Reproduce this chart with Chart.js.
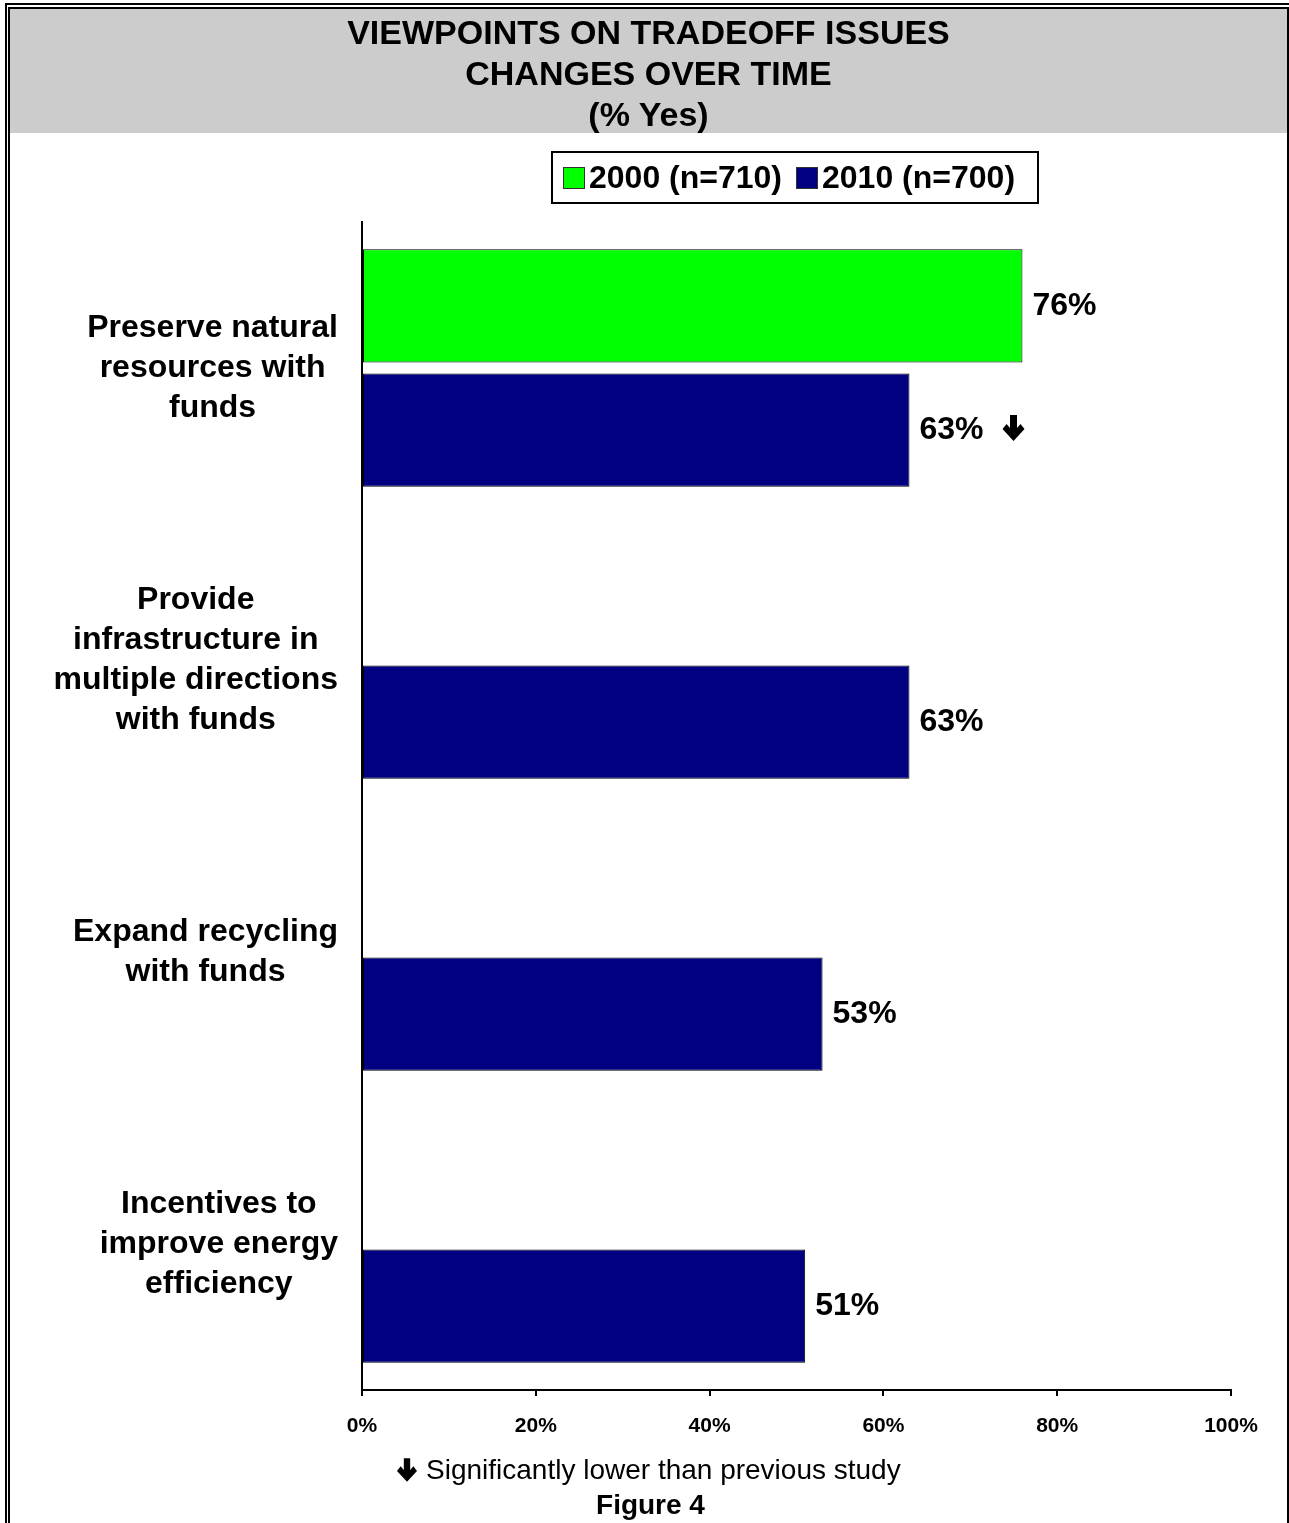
<!DOCTYPE html>
<html>
<head>
<meta charset="utf-8">
<script src="https://cdn.jsdelivr.net/npm/chart.js@4.4.1/dist/chart.umd.min.js"></script>
<style>
  body { margin: 0; background: #fff; font-family: "Liberation Sans", Arial, sans-serif; }
  #page { position: relative; width: 1289px; height: 1523px; overflow: hidden; }
  #frameOuter { position: absolute; left: 5px; top: 3px; width: 1290px; height: 1530px;
    border-left: 2px solid #000; border-top: 2px solid #000; box-sizing: border-box; }
  #frameInner { position: absolute; left: 8px; top: 7px; width: 1281px; height: 1530px;
    border: 2px solid #000; border-bottom: none; box-sizing: border-box; }
  #titleBox { position: absolute; left: 10px; top: 9px; width: 1277px; height: 124px;
    background: #cccccc; text-align: center; font-weight: bold; font-size: 34px;
    line-height: 41px; padding-top: 3px; box-sizing: border-box; color: #000; }
  #legendBox { position: absolute; left: 551px; top: 151px; width: 488px; height: 53px;
    border: 2px solid #000; box-sizing: border-box; display: flex; align-items: center;
    padding-left: 10px; font-weight: bold; font-size: 32px; color: #000; }
  .sw { width: 22px; height: 22px; border: 1px solid #333; box-sizing: border-box; margin-right: 4px; }
  .item { display: flex; align-items: center; margin-right: 14px; }
  #chartCanvas { position: absolute; left: 0; top: 0; }
  #note { position: absolute; left: 397px; top: 1453px; font-size: 28px; line-height: 34px;
    display: flex; align-items: center; color: #000; }
  #note svg { margin-right: 9px; }
  #figure { position: absolute; left: 0; width: 1301px; top: 1488px; text-align: center;
    font-size: 28px; font-weight: bold; line-height: 34px; color: #000; }
</style>
</head>
<body>
<div id="page">
  <canvas id="chartCanvas" width="1289" height="1523"></canvas>
  <div id="frameOuter"></div>
  <div id="frameInner"></div>
  <div id="titleBox">VIEWPOINTS ON TRADEOFF ISSUES<br>CHANGES OVER TIME<br>(% Yes)</div>
  <div id="legendBox"></div>
  <div id="note">
    <svg width="20" height="24" viewBox="0 0 22 26"><polygon points="7.5,0 14.5,0 14.5,13 18,9 22,14 11,26 0,14 4,9 7.5,13" fill="#000"/></svg>
    <span>Significantly lower than previous study</span>
  </div>
  <div id="figure">Figure 4</div>
</div>
<script>
const categories = [
  ['Preserve natural', 'resources with', 'funds'],
  ['Provide', 'infrastructure in', 'multiple directions', 'with funds'],
  ['Expand recycling', 'with funds'],
  ['Incentives to', 'improve energy', 'efficiency']
];
const seriesLabels = ['2000 (n=710)', '2010 (n=700)'];
const values2000 = [76, null, null, null];
const values2010 = [63, 63, 53, 51];
const sigLower2010 = [true, false, false, false];
const xTicks = [0, 20, 40, 60, 80, 100];

const colors = ['#00ff00', '#000080'];
const FONT = '"Liberation Sans", Arial, sans-serif';

// legend box
const legendBox = document.getElementById('legendBox');
seriesLabels.forEach((lab, i) => {
  const item = document.createElement('div');
  item.className = 'item';
  const sw = document.createElement('div');
  sw.className = 'sw';
  sw.style.background = colors[i];
  const txt = document.createElement('span');
  txt.textContent = lab;
  item.appendChild(sw);
  item.appendChild(txt);
  legendBox.appendChild(item);
});

function downArrow(ctx, x, top, w, h) {
  const sx = w / 22, sy = h / 26;
  const pts = [[7.5,0],[14.5,0],[14.5,13],[18,9],[22,14],[11,26],[0,14],[4,9],[7.5,13]];
  ctx.beginPath();
  pts.forEach((p, i) => {
    const px = x + p[0] * sx, py = top + p[1] * sy;
    if (i === 0) ctx.moveTo(px, py); else ctx.lineTo(px, py);
  });
  ctx.closePath();
  ctx.fillStyle = '#000';
  ctx.fill();
}

// value labels at bar ends (+ arrow where the drop is significant)
const valueLabels = {
  id: 'valueLabels',
  afterDatasetsDraw(chart) {
    const ctx = chart.ctx;
    ctx.save();
    ctx.font = 'bold 32px ' + FONT;
    ctx.fillStyle = '#000';
    ctx.textBaseline = 'middle';
    ctx.textAlign = 'left';
    chart.data.datasets.forEach((ds, i) => {
      chart.getDatasetMeta(i).data.forEach((bar, j) => {
        const v = ds.data[j];
        if (v == null) return;
        const t = v + '%';
        const x = bar.x + 10;
        ctx.fillText(t, x, bar.y);
        if (i === 1 && sigLower2010[j]) {
          const w = ctx.measureText(t).width;
          downArrow(ctx, x + w + 19, bar.y - 15, 22, 26);
        }
      });
    });
    ctx.restore();
  }
};

// category labels: centered lines in a block right-aligned to the axis
const categoryLabels = {
  id: 'categoryLabels',
  afterDraw(chart) {
    const ctx = chart.ctx;
    const yScale = chart.scales.y;
    ctx.save();
    ctx.font = 'bold 32px ' + FONT;
    ctx.fillStyle = '#000';
    ctx.textBaseline = 'middle';
    ctx.textAlign = 'center';
    const right = 338, lh = 40;
    categories.forEach((lines, j) => {
      const cy = yScale.getPixelForValue(j);
      const bw = Math.max(...lines.map(l => ctx.measureText(l).width));
      const cx = right - bw / 2;
      lines.forEach((l, k) => {
        ctx.fillText(l, cx, cy + (k - (lines.length - 1) / 2) * lh);
      });
    });
    ctx.restore();
  }
};

const ctx = document.getElementById('chartCanvas').getContext('2d');
new Chart(ctx, {
  type: 'bar',
  data: {
    labels: categories,
    datasets: [
      { label: seriesLabels[0], data: values2000, backgroundColor: colors[0],
        borderColor: '#000', borderWidth: 1, borderSkipped: false },
      { label: seriesLabels[1], data: values2010, backgroundColor: colors[1],
        borderColor: '#000', borderWidth: 1, borderSkipped: false }
    ]
  },
  options: {
    indexAxis: 'y',
    responsive: false,
    animation: false,
    categoryPercentage: 0.851,
    barPercentage: 0.91,
    layout: { padding: { top: 222, left: 0, right: 58, bottom: 0 } },
    plugins: { legend: { display: false }, title: { display: false }, tooltip: { enabled: false } },
    scales: {
      x: {
        min: 0, max: 100,
        afterFit(s) { s.height = 1523 - 1390; },
        afterBuildTicks(s) { s.ticks = xTicks.map(v => ({ value: v })); },
        ticks: {
          callback: v => v + '%',
          color: '#000',
          padding: 18,
          font: { family: FONT, size: 21, weight: 'bold' }
        },
        grid: { drawOnChartArea: false, drawTicks: true, tickLength: 6, color: '#000', lineWidth: 2 },
        border: { display: true, color: '#000', width: 2 }
      },
      y: {
        afterFit(s) { s.width = 362; },
        ticks: { display: false },
        grid: { display: false },
        border: { display: true, color: '#000', width: 2 }
      }
    }
  },
  plugins: [valueLabels, categoryLabels]
});
</script>
</body>
</html>
